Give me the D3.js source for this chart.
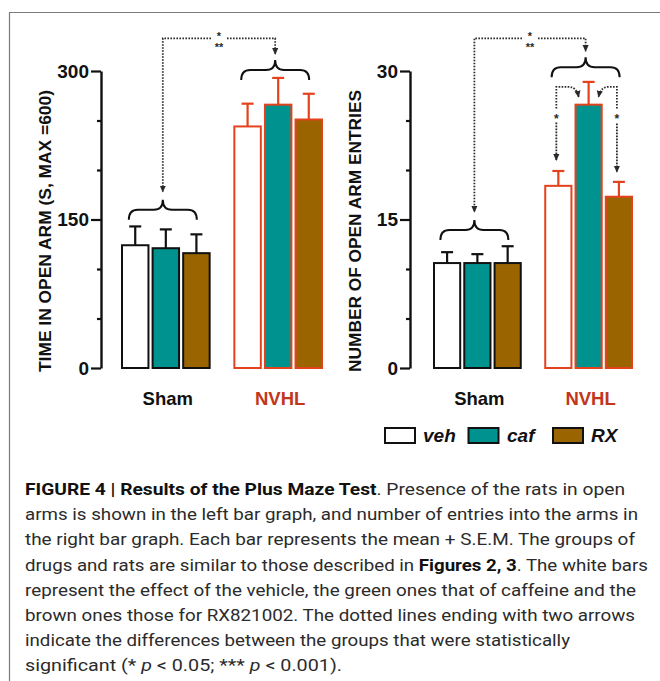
<!DOCTYPE html>
<html>
<head>
<meta charset="utf-8">
<script src="https://cdn.jsdelivr.net/npm/d3@7"></script>
<style>
  html, body { margin: 0; padding: 0; background: #fff; }
  svg { display: block; }
</style>
</head>
<body>
<svg width="660" height="681"></svg>
<script>
const groups = ['Sham', 'NVHL']
const drugs = ['veh', 'caf', 'RX']

// time in open arm (s), mean and S.E.M., order: Sham veh/caf/RX, NVHL veh/caf/RX
const timeMean = [124, 121, 116, 244, 266, 251]
const timeSem = [19, 19, 19, 23, 27, 26]
const timeTicks = [0, 150, 300]
const timeMinor = [50, 100, 200, 250]

// number of open arm entries
const entriesMean = [10.6, 10.6, 10.6, 18.4, 26.6, 17.3]
const entriesSem = [1.1, 0.9, 1.7, 1.5, 2.3, 1.5]
const entriesTicks = [0, 15, 30]
const entriesMinor = [5, 10, 20, 25]

const caption = [
    [['b', 'FIGURE 4 | Results of the Plus Maze Test'], ['n', '. Presence of the rats in open']],
    [['n', 'arms is shown in the left bar graph, and number of entries into the arms in']],
    [['n', 'the right bar graph. Each bar represents the mean + S.E.M. The groups of']],
    [['n', 'drugs and rats are similar to those described in '], ['b', 'Figures 2, 3'], ['n', '. The white bars']],
    [['n', 'represent the effect of the vehicle, the green ones that of caffeine and the']],
    [['n', 'brown ones those for RX821002. The dotted lines ending with two arrows']],
    [['n', 'indicate the differences between the groups that were statistically']],
    [['n', 'significant (* '], ['i', 'p'], ['n', ' < 0.05; *** '], ['i', 'p'], ['n', ' < 0.001).']]
]
const captionWidths = [600, 613, 610, 623, 611, 610, 545, 317]

const fill = { veh: '#ffffff', caf: '#00928e', RX: '#9a6500' }
const edge = { Sham: '#111111', NVHL: '#e4421d' }
const labelColor = { Sham: '#111111', NVHL: '#c2361b' }
const dotColor = '#2a2a2a'
const font = 'Liberation Sans, Arial, sans-serif'

const svg = d3.select('svg')

// frame
svg.append('path')
    .attr('d', 'M9.5,681 V12.5 H660')
    .attr('fill', 'none')
    .attr('stroke', '#7a7a7a')
    .attr('stroke-width', 1.2)

const defs = svg.append('defs')
defs.append('marker')
    .attr('id', 'arrow')
    .attr('viewBox', '0 0 8 8')
    .attr('refX', 7)
    .attr('refY', 4)
    .attr('markerWidth', 7)
    .attr('markerHeight', 7)
    .attr('markerUnits', 'userSpaceOnUse')
    .attr('orient', 'auto')
    .append('path')
    .attr('d', 'M0,0.5 L8,4 L0,7.5 Z')
    .attr('fill', dotColor)

function brace(g, cx, half, yTip, h) {
    const x0 = cx - half,
        x1 = cx + half,
        ym = yTip + h / 2,
        yEnd = yTip + h,
        r = 9
    g.append('path')
        .attr(
            'd',
            `M${x0},${yEnd} Q${x0},${ym} ${x0 + r},${ym} L${cx - r},${ym} Q${cx},${ym} ${cx},${yTip}` +
                ` Q${cx},${ym} ${cx + r},${ym} L${x1 - r},${ym} Q${x1},${ym} ${x1},${yEnd}`
        )
        .attr('fill', 'none')
        .attr('stroke', '#111')
        .attr('stroke-width', 2)
}

function dotted(g, d, arrow) {
    g.append('path')
        .attr('d', d)
        .attr('fill', 'none')
        .attr('stroke', dotColor)
        .attr('stroke-width', 1.8)
        .attr('stroke-dasharray', '1.6,1.4')
        .attr('marker-end', arrow ? 'url(#arrow)' : null)
}

function stars(g, x, y, n) {
    // n = 1 -> "*", n = 3 -> "*" over "**"
    const t = g.append('g')
        .attr('font-family', font)
        .attr('font-weight', 'bold')
        .attr('font-size', 11)
        .attr('fill', dotColor)
        .attr('text-anchor', 'middle')
    if (n === 1) {
        t.append('text').attr('x', x).attr('y', y + 7).attr('font-size', 12).text('*')
    } else {
        t.append('text').attr('x', x).attr('y', y + 1.5).text('*')
        t.append('text').attr('x', x).attr('y', y + 12.5).text('**')
    }
}

function panel(opts) {
    const g = svg.append('g')
    const y = d3.scaleLinear().domain(opts.domain).range([368, 71])
    const x0 = d3.scaleBand().domain(groups).range(opts.xRange).paddingInner(0.22)
    const x1 = d3.scaleBand().domain(drugs).range([0, x0.bandwidth()]).paddingInner(0.135)

    const rows = []
    groups.forEach((grp, i) =>
        drugs.forEach((dr, j) =>
            rows.push({ grp, dr, mean: opts.mean[i * 3 + j], sem: opts.sem[i * 3 + j] })
        )
    )
    const bx = (d) => x0(d.grp) + x1(d.dr)

    // error bars (behind bars)
    const err = g.append('g').attr('stroke-width', 2.2)
    err.selectAll('line.v')
        .data(rows)
        .join('line')
        .attr('class', 'v')
        .attr('x1', (d) => bx(d) + x1.bandwidth() / 2)
        .attr('x2', (d) => bx(d) + x1.bandwidth() / 2)
        .attr('y1', (d) => y(d.mean))
        .attr('y2', (d) => y(d.mean + d.sem))
        .attr('stroke', (d) => edge[d.grp])
    err.selectAll('line.c')
        .data(rows)
        .join('line')
        .attr('class', 'c')
        .attr('x1', (d) => bx(d) + x1.bandwidth() / 2 - 6)
        .attr('x2', (d) => bx(d) + x1.bandwidth() / 2 + 6)
        .attr('y1', (d) => y(d.mean + d.sem))
        .attr('y2', (d) => y(d.mean + d.sem))
        .attr('stroke', (d) => edge[d.grp])

    g.append('g')
        .selectAll('rect')
        .data(rows)
        .join('rect')
        .attr('x', (d) => bx(d))
        .attr('y', (d) => y(d.mean))
        .attr('width', x1.bandwidth())
        .attr('height', (d) => y(0) - y(d.mean))
        .attr('fill', (d) => fill[d.dr])
        .attr('stroke', (d) => edge[d.grp])
        .attr('stroke-width', 2)

    // axis
    const ax = g.append('g').attr('transform', `translate(${opts.axisX},0)`)
    ax.call(d3.axisLeft(y).tickValues(opts.ticks).tickSize(10).tickSizeOuter(0).tickPadding(2))
    ax.append('g').call(d3.axisLeft(y).tickValues(opts.minor).tickSize(4).tickFormat('').tickSizeOuter(0))
        .select('.domain').remove()
    ax.selectAll('.domain').attr('stroke', '#111').attr('stroke-width', 2.4)
    ax.selectAll('.tick line').attr('stroke', '#111').attr('stroke-width', 2.2)
    ax.selectAll('.tick text')
        .attr('font-family', font)
        .attr('font-weight', 'bold')
        .attr('font-size', 19)
        .attr('fill', '#111')

    g.append('text')
        .attr('transform', `translate(${opts.titleX},231) rotate(-90)`)
        .attr('text-anchor', 'middle')
        .attr('font-family', font)
        .attr('font-weight', 'bold')
        .attr('font-size', 16.5)
        .attr('fill', '#111')
        .attr('textLength', 282)
        .attr('lengthAdjust', 'spacingAndGlyphs')
        .text(opts.title)

    g.selectAll('text.grp')
        .data(groups)
        .join('text')
        .attr('class', 'grp')
        .attr('x', (d) => x0(d) + x0.bandwidth() / 2 + 2)
        .attr('y', 405)
        .attr('text-anchor', 'middle')
        .attr('font-family', font)
        .attr('font-weight', 'bold')
        .attr('font-size', 18.5)
        .attr('fill', (d) => labelColor[d])
        .text((d) => d)

    // braces and significance arrows
    const cS = x0('Sham') + x0.bandwidth() / 2 - 3
    const cN = x0('NVHL') + x0.bandwidth() / 2 - 3
    const shamTip = y(opts.shamBrace)
    const nvhlTip = y(opts.nvhlBrace)
    brace(g, cS, 34, shamTip, 20)
    brace(g, cN, 34, nvhlTip, 20)

    const top = y(opts.topLine)
    const mid = (cS + cN) / 2
    dotted(g, `M${mid - 8},${top} H${cS} V${shamTip - 8}`, true)
    dotted(g, `M${mid + 8},${top} H${cN} V${nvhlTip - 6}`, true)
    stars(g, mid, top, 3)
    return { x0, x1, y, g }
}

const left = panel({
    domain: [0, 300],
    xRange: [122, 322],
    axisX: 101,
    ticks: timeTicks,
    minor: timeMinor,
    mean: timeMean,
    sem: timeSem,
    title: 'TIME IN OPEN ARM (S, MAX =600)',
    titleX: 51,
    shamBrace: 170,
    nvhlBrace: 311,
    topLine: 333
})

const right = panel({
    domain: [0, 30],
    xRange: [434, 632],
    axisX: 410,
    ticks: entriesTicks,
    minor: entriesMinor,
    mean: entriesMean,
    sem: entriesSem,
    title: 'NUMBER OF OPEN ARM ENTRIES',
    titleX: 361,
    shamBrace: 14.95,
    nvhlBrace: 31.4,
    topLine: 33.3
})

// within-NVHL comparisons (caf vs veh, caf vs RX) on the right panel
{
    const { x0, x1, y, g } = right
    const cx = (dr) => x0('NVHL') + x1(dr) + x1.bandwidth() / 2
    const lx = cx('veh') - 2,
        rx = cx('RX') - 2,
        mx = cx('caf')
    const yt = y(28.4),
        ys = y(25.5)
    dotted(g, `M${lx},${ys - 7} V${yt} H${mx - 20} Q${mx - 12},${yt} ${mx - 10},${yt + 10}`, true)
    dotted(g, `M${lx},${ys + 7} V${y(21)}`, true)
    stars(g, lx, ys, 1)
    dotted(g, `M${rx},${ys - 7} V${yt} H${mx + 20} Q${mx + 12},${yt} ${mx + 10},${yt + 10}`, true)
    dotted(g, `M${rx},${ys + 8} V${y(19.8)}`, true)
    stars(g, rx, ys, 1)
}

// legend
const leg = svg.append('g')
const legX = d3.scalePoint().domain(drugs).range([385, 553])
leg.selectAll('rect')
    .data(drugs)
    .join('rect')
    .attr('x', (d) => legX(d) + (d === 'caf' ? -0.5 : 0))
    .attr('y', 428)
    .attr('width', 30)
    .attr('height', 15)
    .attr('fill', (d) => fill[d])
    .attr('stroke', '#111')
    .attr('stroke-width', 2)
leg.selectAll('text')
    .data(drugs)
    .join('text')
    .attr('x', (d) => legX(d) + 38)
    .attr('y', 442)
    .attr('font-family', font)
    .attr('font-weight', 'bold')
    .attr('font-style', 'italic')
    .attr('font-size', 19)
    .attr('fill', '#111')
    .text((d) => d)

// caption
const cap = svg.append('g')
    .attr('font-family', '"Liberation Sans Narrow", Roboto, sans-serif')
    .attr('font-size', 17)
    .attr('fill', '#2b2b2b')
caption.forEach((line, i) => {
    const t = cap.append('text')
        .attr('x', 25)
        .attr('y', 495 + i * 25.2)
        .attr('textLength', captionWidths[i])
        .attr('lengthAdjust', 'spacingAndGlyphs')
    line.forEach(([k, s]) => {
        t.append('tspan')
            .attr('font-weight', k === 'b' ? 'bold' : null)
            .attr('font-style', k === 'i' ? 'italic' : null)
            .attr('fill', k === 'b' ? '#111' : null)
            .text(s)
    })
})
</script>
</body>
</html>
